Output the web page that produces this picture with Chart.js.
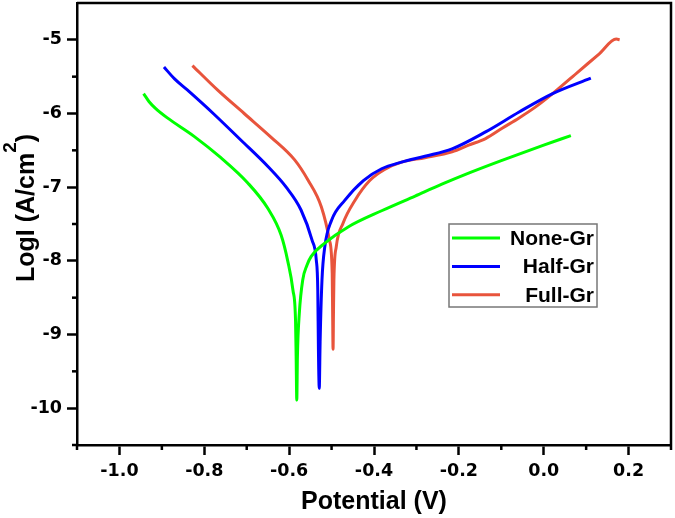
<!DOCTYPE html>
<html>
<head>
<meta charset="utf-8">
<script src="https://cdn.jsdelivr.net/npm/chart.js@4"></script>
<style>
  body { margin: 0; background: #fff; }
  canvas { display: block; }
</style>
</head>
<body>
<canvas id="tafelChart" width="675" height="518"></canvas>
<script>
// Tafel curves: potential (V) and log current density
const noneV = [-0.943, -0.930, -0.915, -0.887, -0.824, -0.761, -0.698, -0.650, -0.619, -0.603, -0.591, -0.585, -0.5835, -0.582, -0.5805, -0.576, -0.568, -0.558, -0.548, -0.516, -0.461, -0.382, -0.303, -0.240, -0.177, -0.100, 0.000, 0.064];
const noneL = [-5.73, -5.84, -5.93, -6.06, -6.31, -6.60, -6.94, -7.29, -7.65, -8.01, -8.40, -8.80, -9.30, -9.89, -9.30, -8.71, -8.26, -8.06, -7.94, -7.76, -7.54, -7.32, -7.12, -6.96, -6.81, -6.64, -6.43, -6.30];

const halfV = [-0.895, -0.870, -0.840, -0.777, -0.714, -0.650, -0.607, -0.572, -0.546, -0.536, -0.5325, -0.531, -0.529, -0.527, -0.5226, -0.516, -0.500, -0.469, -0.425, -0.382, -0.335, -0.280, -0.216, -0.137, -0.058, 0.021, 0.111];
const halfL = [-5.37, -5.53, -5.68, -6.01, -6.36, -6.72, -7.00, -7.31, -7.72, -7.99, -8.40, -9.20, -9.73, -9.10, -8.26, -7.81, -7.45, -7.18, -6.91, -6.75, -6.66, -6.58, -6.48, -6.25, -5.98, -5.73, -5.52];

const fullV = [-0.828, -0.769, -0.706, -0.643, -0.587, -0.556, -0.524, -0.505, -0.4985, -0.4975, -0.4965, -0.4955, -0.4945, -0.489, -0.473, -0.445, -0.410, -0.375, -0.335, -0.280, -0.216, -0.177, -0.137, -0.098, -0.058, -0.019, 0.021, 0.084, 0.131, 0.171, 0.179];
const fullL = [-5.35, -5.68, -6.00, -6.32, -6.63, -6.90, -7.27, -7.72, -8.17, -8.70, -9.20, -8.70, -8.26, -7.81, -7.49, -7.18, -6.91, -6.76, -6.66, -6.60, -6.52, -6.43, -6.34, -6.20, -6.06, -5.91, -5.73, -5.42, -5.19, -4.99, -5.00];

const seriesNames = ['None-Gr', 'Half-Gr', 'Full-Gr'];
const seriesColors = ['#00FF00', '#0000FF', '#E8543C'];

// Tick positions
const xMajorTicks = [-1.0, -0.8, -0.6, -0.4, -0.2, 0.0, 0.2];
const xMinorTicks = [-1.1, -0.9, -0.7, -0.5, -0.3, -0.1, 0.1, 0.3];
const yMajorTicks = [-10, -9, -8, -7, -6, -5];
const yMinorTicks = [-10.5, -9.5, -8.5, -7.5, -6.5, -5.5];

function toPoints(xs, ys) {
    return xs.map((x, i) => ({x: x, y: ys[i]}));
}

const tickFont = {family: 'DejaVu Sans', weight: 'bold', size: 17.5};
const titleFamily = '"Liberation Sans", Arial, sans-serif';

// Minor ticks, top/right frame, rotated y title with superscript, legend box
const extrasPlugin = {
    id: 'extras',
    afterDraw(chart) {
        const ctx = chart.ctx;
        const ca = chart.chartArea;
        const xs = chart.scales.x;
        const ys = chart.scales.y;

        ctx.save();
        ctx.strokeStyle = '#000';
        ctx.lineWidth = 2.5;
        ctx.beginPath();
        ctx.moveTo(ca.left, ca.top);
        ctx.lineTo(ca.right, ca.top);
        ctx.lineTo(ca.right, ca.bottom);
        ctx.stroke();

        xMinorTicks.forEach(v => {
            const px = xs.getPixelForValue(v);
            ctx.beginPath();
            ctx.moveTo(px, ca.bottom);
            ctx.lineTo(px, ca.bottom + 5);
            ctx.stroke();
        });
        yMinorTicks.forEach(v => {
            const py = ys.getPixelForValue(v);
            ctx.beginPath();
            ctx.moveTo(ca.left, py);
            ctx.lineTo(ca.left - 5, py);
            ctx.stroke();
        });
        ctx.restore();

        // y title: LogI (A/cm^2)
        ctx.save();
        const cy = (ca.top + ca.bottom) / 2 - 16;
        ctx.translate(34, cy);
        ctx.rotate(-Math.PI / 2);
        ctx.fillStyle = '#000';
        ctx.textBaseline = 'alphabetic';
        const mainFont = 'bold 25px ' + titleFamily;
        const supFont = 'bold 19px ' + titleFamily;
        ctx.font = mainFont;
        const w1 = ctx.measureText('LogI (A/cm').width;
        const w3 = ctx.measureText(')').width;
        ctx.font = supFont;
        const w2 = ctx.measureText('2').width;
        let tx = -(w1 + w2 + w3) / 2;
        ctx.font = mainFont;
        ctx.fillText('LogI (A/cm', tx, 0);
        tx += w1;
        ctx.font = supFont;
        ctx.fillText('2', tx, -18);
        tx += w2;
        ctx.font = mainFont;
        ctx.fillText(')', tx, 0);
        ctx.restore();

        // legend
        ctx.save();
        const bx = ca.left + 372, by = ca.top + 221, bw = 148, bh = 83;
        ctx.fillStyle = '#fff';
        ctx.fillRect(bx, by, bw, bh);
        ctx.strokeStyle = '#777';
        ctx.lineWidth = 1.5;
        ctx.strokeRect(bx, by, bw, bh);
        ctx.font = 'bold 21px ' + titleFamily;
        ctx.textAlign = 'right';
        ctx.textBaseline = 'middle';
        chart.data.datasets.forEach((ds, i) => {
            const ly = by + 14 + i * 28.4;
            ctx.strokeStyle = ds.borderColor;
            ctx.lineWidth = 3;
            ctx.beginPath();
            ctx.moveTo(bx + 3, ly);
            ctx.lineTo(bx + 51, ly);
            ctx.stroke();
            ctx.fillStyle = '#000';
            ctx.fillText(ds.label, bx + bw - 3, ly + 1);
        });
        ctx.restore();
    }
};

const ctx = document.getElementById('tafelChart').getContext('2d');

const tafelChart = new Chart(ctx, {
    type: 'line',
    data: {
        datasets: [
            {label: seriesNames[0], data: toPoints(noneV, noneL), borderColor: seriesColors[0]},
            {label: seriesNames[1], data: toPoints(halfV, halfL), borderColor: seriesColors[1]},
            {label: seriesNames[2], data: toPoints(fullV, fullL), borderColor: seriesColors[2]}
        ]
    },
    options: {
        responsive: false,
        animation: false,
        layout: {
            padding: {top: 3, right: 4, left: 0, bottom: 0}
        },
        elements: {
            point: {radius: 0},
            line: {borderWidth: 3, cubicInterpolationMode: 'monotone', fill: false}
        },
        plugins: {
            legend: {display: false},
            tooltip: {enabled: false}
        },
        scales: {
            x: {
                type: 'linear',
                min: -1.1,
                max: 0.3,
                afterBuildTicks: s => { s.ticks = xMajorTicks.map(v => ({value: v})); },
                afterFit: s => { s.height = 73; s.paddingLeft = 0; s.paddingRight = 0; },
                ticks: {
                    font: tickFont,
                    color: '#000',
                    padding: 6,
                    maxRotation: 0,
                    callback: v => Number(v).toFixed(1)
                },
                grid: {
                    drawOnChartArea: false,
                    tickLength: 10,
                    tickWidth: 2.5,
                    tickColor: '#000'
                },
                border: {color: '#000', width: 2.5},
                title: {
                    display: true,
                    text: 'Potential (V)',
                    color: '#000',
                    font: {family: titleFamily, weight: 'bold', size: 25},
                    padding: {top: 0, bottom: 1}
                }
            },
            y: {
                type: 'linear',
                min: -10.5,
                max: -4.5,
                afterBuildTicks: s => { s.ticks = yMajorTicks.map(v => ({value: v})); },
                afterFit: s => { s.width = 77; s.paddingTop = 0; s.paddingBottom = 0; },
                ticks: {
                    font: tickFont,
                    color: '#000',
                    padding: 5,
                    callback: v => String(v)
                },
                grid: {
                    drawOnChartArea: false,
                    tickLength: 10,
                    tickWidth: 2.5,
                    tickColor: '#000'
                },
                border: {color: '#000', width: 2.5}
            }
        }
    },
    plugins: [extrasPlugin]
});
</script>
</body>
</html>
